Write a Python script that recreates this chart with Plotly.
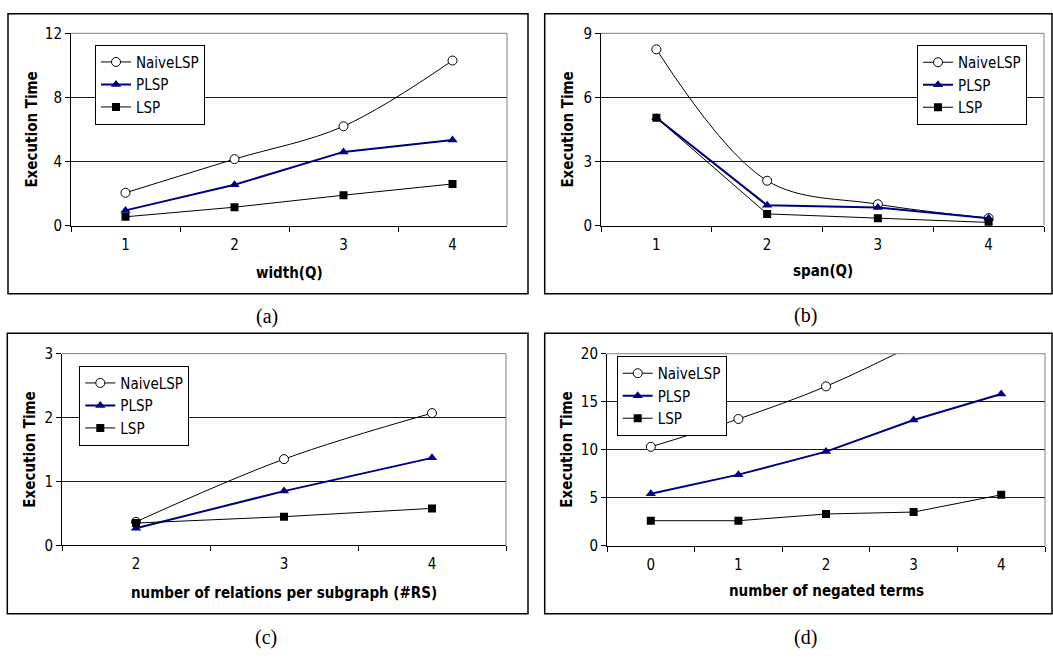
import plotly.graph_objects as go

# ---------------- data ----------------
series_names = ["NaiveLSP", "PLSP", "LSP"]

a_categories = ["1", "2", "3", "4"]
a_naive = [2.05, 4.15, 6.2, 10.3]
a_plsp = [0.95, 2.55, 4.6, 5.35]
a_lsp = [0.55, 1.15, 1.9, 2.6]

b_categories = ["1", "2", "3", "4"]
b_naive = [8.25, 2.1, 1.0, 0.35]
b_plsp = [5.05, 0.95, 0.85, 0.35]
b_lsp = [5.05, 0.55, 0.35, 0.15]

c_categories = ["2", "3", "4"]
c_naive = [0.37, 1.35, 2.07]
c_plsp = [0.27, 0.85, 1.37]
c_lsp = [0.35, 0.45, 0.58]

d_categories = ["0", "1", "2", "3", "4"]
d_naive = [10.3, 13.2, 16.6, 20.9, 25.5]
d_plsp = [5.4, 7.4, 9.8, 13.1, 15.8]
d_lsp = [2.6, 2.6, 3.3, 3.5, 5.3]

x_titles = ["width(Q)", "span(Q)", "number of relations per subgraph (#RS)",
            "number of negated terms"]
y_title = "Execution Time"
captions = ["(a)", "(b)", "(c)", "(d)"]
y_ranges = [[0, 12], [0, 9], [0, 3], [0, 20]]
y_dticks = [4, 3, 1, 5]

# ---------------- layout geometry (pixels) ----------------
W, H = 1053, 660
def px(x):
    return x / W
def py(y):
    return 1 - y / H

plot_boxes = [  # x0, x1, ytop, ybottom
    (71, 507, 25, 222.7),
    (601, 1044, 25, 222.7),
    (62, 506, 354.3, 551.5),
    (607, 1045, 354.4, 551.7),
]
outer_boxes = [
    (8, 528, 5, 292.7),
    (544.7, 1052, 5, 292.7),
    (7.3, 528, 333.3, 621.7),
    (544.7, 1052, 333.3, 621.7),
]
legend_pos = [(95, 36.7), (917, 37), (79.3, 366.7), (616.7, 356.7)]
ytitle_pos = [(32, 124), (568, 124), (30, 453), (567, 453)]
xtitle_pos = [(289, 271), (822.5, 269), (284, 600), (826.5, 598)]
caption_pos = [(267, 316), (805, 315), (266, 646), (805, 646)]

NAVY = "#000080"
TICK_FONT = dict(family="DejaVu Sans Condensed, DejaVu Sans", size=15, color="black")
TITLE_FONT = dict(family="DejaVu Sans Condensed, DejaVu Sans", size=15, color="black",
                  weight="bold")

panels = [
    (a_categories, a_naive, a_plsp, a_lsp),
    (b_categories, b_naive, b_plsp, b_lsp),
    (c_categories, c_naive, c_plsp, c_lsp),
    (d_categories, d_naive, d_plsp, d_lsp),
]

fig = go.Figure()
layout = dict(width=W, height=H, margin=dict(l=0, r=0, t=0, b=0),
              paper_bgcolor="white", plot_bgcolor="white", showlegend=True)
shapes = []
annotations = []

for i, (cats, naive, plsp, lsp) in enumerate(panels):
    n = i + 1
    xa = "x" if n == 1 else f"x{n}"
    ya = "y" if n == 1 else f"y{n}"
    lg = "legend" if n == 1 else f"legend{n}"
    fig.add_trace(go.Scatter(
        x=cats, y=naive, name=series_names[0], xaxis=xa, yaxis=ya, legend=lg,
        mode="lines+markers", line=dict(color="black", width=1, shape="spline"),
        marker=dict(symbol="circle", size=9, color="white",
                    line=dict(color="black", width=1)),
    ))
    fig.add_trace(go.Scatter(
        x=cats, y=plsp, name=series_names[1], xaxis=xa, yaxis=ya, legend=lg,
        mode="lines+markers", line=dict(color=NAVY, width=2),
        marker=dict(symbol="triangle-up", size=9, color=NAVY),
    ))
    fig.add_trace(go.Scatter(
        x=cats, y=lsp, name=series_names[2], xaxis=xa, yaxis=ya, legend=lg,
        mode="lines+markers", line=dict(color="black", width=1),
        marker=dict(symbol="square", size=8, color="black"),
    ))

    x0, x1, yt, yb = plot_boxes[i]
    xkey = "xaxis" if n == 1 else f"xaxis{n}"
    ykey = "yaxis" if n == 1 else f"yaxis{n}"
    layout[xkey] = dict(
        domain=[px(x0), px(x1)], anchor=ya, type="category",
        categoryorder="array", categoryarray=cats,
        range=[-0.5, len(cats) - 0.5],
        showgrid=False, zeroline=False, showline=True, linecolor="black",
        linewidth=1, ticks="outside", ticklen=5, tickcolor="black",
        tickson="boundaries", tickfont=TICK_FONT, fixedrange=True,
        ticklabelstandoff=5,
    )
    layout[ykey] = dict(
        domain=[py(yb), py(yt)], anchor=xa, range=y_ranges[i],
        dtick=y_dticks[i], tick0=0, showgrid=True, gridcolor="#1a1a1a",
        gridwidth=1, zeroline=False, showline=True, linecolor="black",
        linewidth=1, ticks="outside", ticklen=5, tickcolor="black",
        tickfont=TICK_FONT, fixedrange=True,
    )
    lx, ly = legend_pos[i]
    layout[lg] = dict(
        x=px(lx), y=py(ly), xanchor="left", yanchor="top",
        bgcolor="white", bordercolor="black", borderwidth=1,
        font=dict(family="DejaVu Sans Condensed, DejaVu Sans", size=15, color="black"),
        itemwidth=30, tracegroupgap=0,
    )
    # gray plot-area border (top and right)
    shapes.append(dict(type="line", xref="paper", yref="paper",
                       x0=px(x0), x1=px(x1), y0=py(yt), y1=py(yt),
                       line=dict(color="#808080", width=1)))
    shapes.append(dict(type="line", xref="paper", yref="paper",
                       x0=px(x1), x1=px(x1), y0=py(yt), y1=py(yb),
                       line=dict(color="#808080", width=1)))
    # outer frame
    bx0, bx1, byt, byb = outer_boxes[i]
    shapes.append(dict(type="rect", xref="paper", yref="paper",
                       x0=px(bx0), x1=px(bx1), y0=py(byb), y1=py(byt),
                       line=dict(color="black", width=1.5), layer="below"))
    # titles
    tx, ty = xtitle_pos[i]
    annotations.append(dict(text=x_titles[i], x=px(tx), y=py(ty), xref="paper",
                            yref="paper", showarrow=False, xanchor="center",
                            yanchor="middle", font=TITLE_FONT))
    tx, ty = ytitle_pos[i]
    annotations.append(dict(text=y_title, x=px(tx), y=py(ty), xref="paper",
                            yref="paper", showarrow=False, xanchor="center",
                            yanchor="middle", textangle=-90, font=TITLE_FONT))
    cx, cy = caption_pos[i]
    annotations.append(dict(text=captions[i], x=px(cx), y=py(cy), xref="paper",
                            yref="paper", showarrow=False, xanchor="center",
                            yanchor="middle",
                            font=dict(family="Liberation Serif", size=20,
                                      color="black")))

layout["shapes"] = shapes
layout["annotations"] = annotations
fig.update_layout(**layout)
fig.write_html("out.html",
               config={"displayModeBar": False, "staticPlot": True},
               post_script="document.body.style.margin='0';"
                           "document.body.style.overflow='hidden';")
